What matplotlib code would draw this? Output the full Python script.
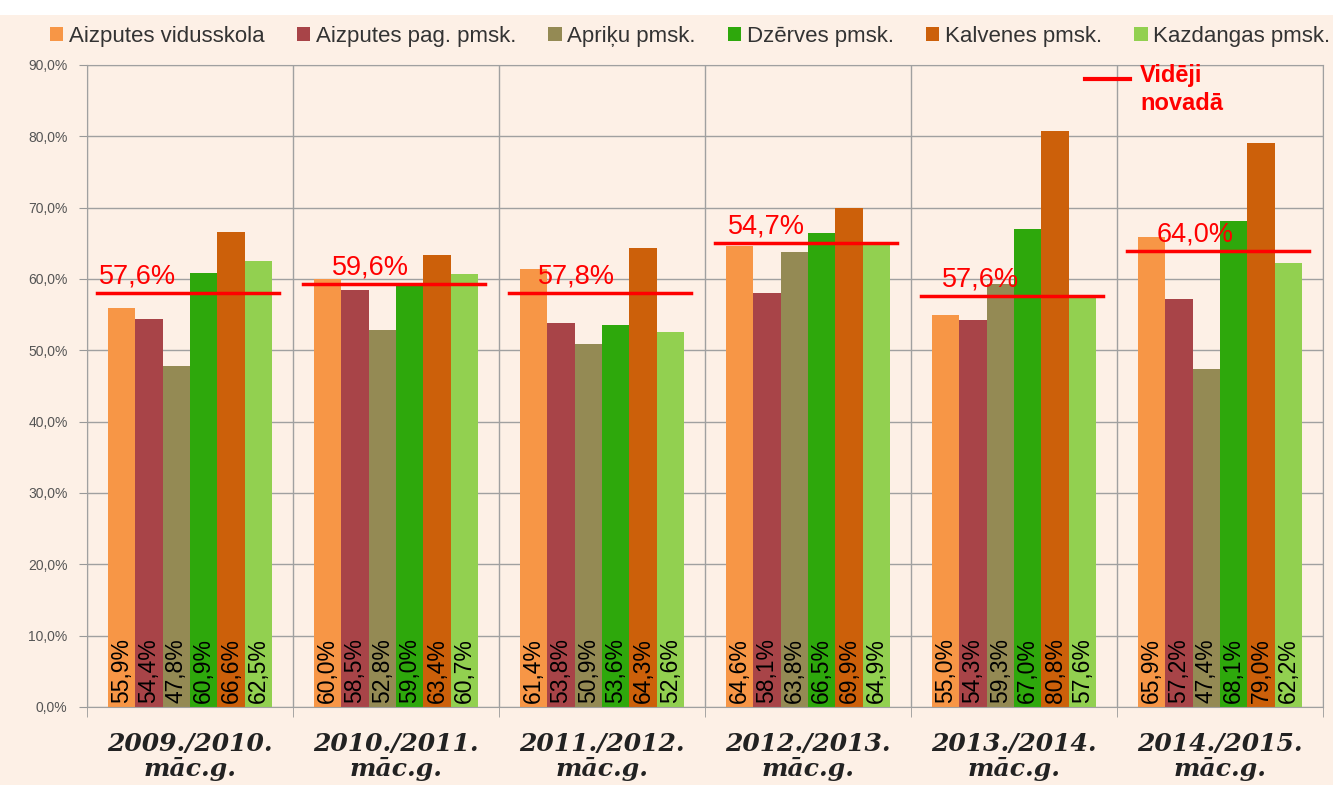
import numpy as np
import matplotlib.pyplot as plt
from matplotlib.patches import Rectangle

# dati
years = ["2009./2010.\nmāc.g.", "2010./2011.\nmāc.g.", "2011./2012.\nmāc.g.",
         "2012./2013.\nmāc.g.", "2013./2014.\nmāc.g.", "2014./2015.\nmāc.g."]
schools = ["Aizputes vidusskola", "Aizputes pag. pmsk.", "Apriķu pmsk.",
           "Dzērves pmsk.", "Kalvenes pmsk.", "Kazdangas pmsk."]
aizputes_vsk = [55.9, 60.0, 61.4, 64.6, 55.0, 65.9]
aizputes_pag = [54.4, 58.5, 53.8, 58.1, 54.3, 57.2]
apriku = [47.8, 52.8, 50.9, 63.8, 59.3, 47.4]
dzerves = [60.9, 59.0, 53.6, 66.5, 67.0, 68.1]
kalvenes = [66.6, 63.4, 64.3, 69.9, 80.8, 79.0]
kazdangas = [62.5, 60.7, 52.6, 64.9, 57.6, 62.2]
# vidēji novadā: līnijas augstums attēlā un uzraksts
avg_line = [58.0, 59.3, 58.0, 65.1, 57.6, 63.9]
avg_text = ["57,6%", "59,6%", "57,8%", "54,7%", "57,6%", "64,0%"]

series = [aizputes_vsk, aizputes_pag, apriku, dzerves, kalvenes, kazdangas]
colors = ["#F79646", "#A84448", "#948A54", "#2EA80C", "#CC600A", "#92D050"]
bg = "#FDF0E6"

plt.rcParams['font.family'] = ['Liberation Sans', 'DejaVu Sans']

fig = plt.figure(figsize=(13.33, 7.85), dpi=100, facecolor=bg)
fig.patches.append(Rectangle((0, 1 - 15/785), 1, 15/785, transform=fig.transFigure,
                             facecolor='white', edgecolor='none', zorder=0))
ax = fig.add_axes([87/1333, 1 - 707/785, (1323 - 87)/1333, (707 - 65)/785])
ax.set_facecolor(bg)

n = len(series)
x = np.arange(len(years))
w = 0.8 / n
for i, (vals, c) in enumerate(zip(series, colors)):
    xs = x - 0.4 + w*(i + 0.5)
    ax.bar(xs, vals, width=w, color=c, label=schools[i], zorder=2)
    for xi, v in zip(xs, vals):
        ax.text(xi, 0.5, f"{v:.1f}%".replace(".", ","), rotation=90, ha='center',
                va='bottom', fontsize=16.5, color='black', zorder=4)

# vidējā līnija
txt_off = [-0.44, -0.31, -0.31, -0.39, -0.35, -0.31]
for xi, v, t, o in zip(x, avg_line, avg_text, txt_off):
    ax.plot([xi - 0.45, xi + 0.43], [v, v], color='#FF0000', lw=2.5, zorder=3)
    ax.text(xi + o, v + 0.5, t, color='#FF0000', fontsize=19.5, ha='left',
            va='bottom', zorder=4)

ax.set_xlim(-0.5, len(years) - 0.5)
ax.set_ylim(0, 90)
ax.set_yticks(np.arange(0, 91, 10))
ax.set_yticklabels([f"{v:.1f}%".replace(".", ",") for v in np.arange(0, 91, 10)],
                   fontsize=10, color='#555555')
ax.set_xticks(x)
ax.set_xticklabels(years, fontsize=18, family='DejaVu Serif', style='italic',
                   fontweight='bold', color='#222222', linespacing=1.05)
ax.set_xticks(np.arange(-0.5, len(years)), minor=True)
ax.tick_params(axis='x', which='major', length=0, pad=18)
ax.tick_params(axis='x', which='minor', length=7, color='#999999')
ax.tick_params(axis='y', length=6, color='#999999', pad=8)
ax.grid(axis='y', color='#A0A0A0', lw=1, zorder=0)
ax.grid(axis='x', which='minor', color='#A0A0A0', lw=1, zorder=0)
for s in ax.spines.values():
    s.set_color('#A0A0A0')

leg = fig.legend(loc='upper left', bbox_to_anchor=(30/1333, 1 - 6/785), ncol=6,
                 frameon=False, fontsize=16, handlelength=0.6, handleheight=0.6,
                 handletextpad=0.25, columnspacing=1.45, labelcolor='#333333')

# Vidēji novadā leģenda
fig.add_artist(plt.Line2D([1085/1333, 1130/1333], [1 - 79/785, 1 - 79/785],
                          color='#FF0000', lw=3))
fig.text(1140/1333, 1 - 64/785, "Vidēji\nnovadā", color='#FF0000', fontsize=17,
         fontweight='bold', va='top', ha='left', linespacing=1.25)

fig.savefig("out.png", dpi=100, facecolor=bg)
